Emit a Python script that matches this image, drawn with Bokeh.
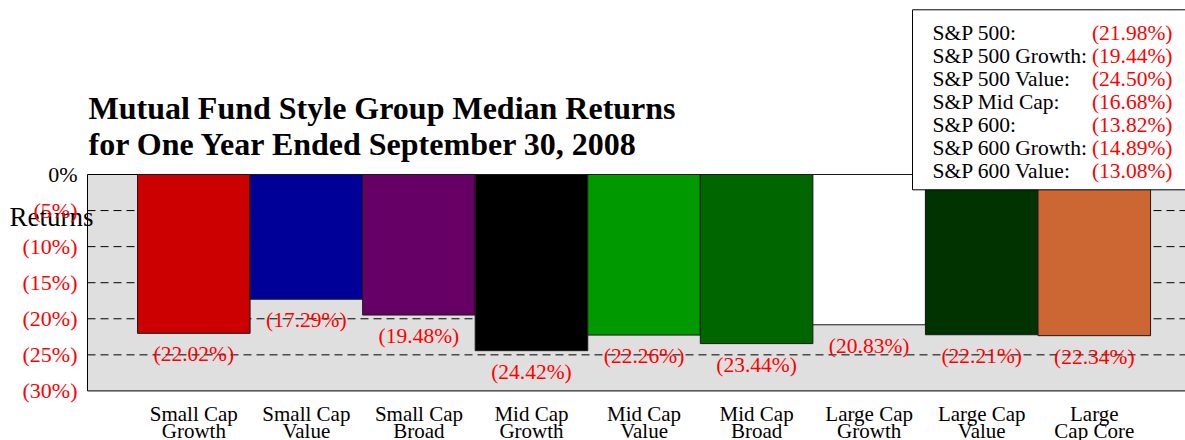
from bokeh.plotting import figure
from bokeh.models import Range1d, FixedTicker, LinearAxis
from bokeh.core.properties import value
from bokeh.embed import file_html
from bokeh.resources import INLINE

# ---- data ----
categories = ["Small Cap\nGrowth", "Small Cap\nValue", "Small Cap\nBroad",
              "Mid Cap\nGrowth", "Mid Cap\nValue", "Mid Cap\nBroad",
              "Large Cap\nGrowth", "Large Cap\nValue", "Large\nCap Core"]
returns = [-22.02, -17.29, -19.48, -24.42, -22.26, -23.44, -20.83, -22.21, -22.34]
bar_colors = ["#CC0000", "#000099", "#660066", "#000000", "#009900",
              "#006600", "#FFFFFF", "#003300", "#CC6633"]
index_names = ["S&P 500:", "S&P 500 Growth:", "S&P 500 Value:", "S&P Mid Cap:",
               "S&P 600:", "S&P 600 Growth:", "S&P 600 Value:"]
index_returns = [-21.98, -19.44, -24.50, -16.68, -13.82, -14.89, -13.08]
y_ticks = [0, -5, -10, -15, -20, -25, -30]
grid_values = [-5, -10, -15, -20, -25]
title_lines = ["Mutual Fund Style Group Median Returns",
               "for One Year Ended September 30, 2008"]
y_title = "Returns"

# ---- layout constants (pixels) ----
W, H = 1185, 440
PX_X = 112.56
PX_Y = 7.214
X0 = 193.3   # px of first category centre
Y0 = 174.0   # px of 0%

def dx(px):
    return (px - X0) / PX_X

def dy(py):
    return (Y0 - py) / PX_Y

FONT = value("Liberation Serif")
x_end = dx(W)
plot_left = dx(87)

def pct_tick(v):
    return "0%" if v == 0 else f"({abs(v):g}%)"

def pct_val(v):
    return f"({abs(v):.2f}%)"

p = figure(width=W, height=H,
           x_range=Range1d(dx(0), x_end),
           y_range=Range1d(dy(H), dy(0)),
           output_backend="svg", toolbar_location=None,
           x_axis_location=None, y_axis_location=None,
           min_border=0, min_border_left=0, min_border_right=0,
           min_border_top=0, min_border_bottom=0,
           outline_line_color=None,
           background_fill_color="white", border_fill_color="white")
p.xgrid.visible = False
p.ygrid.visible = False

def make_axis(ticks, color):
    ax = LinearAxis(fixed_location=plot_left)
    ax.ticker = FixedTicker(ticks=ticks)
    ax.major_label_overrides = {t: pct_tick(t) for t in ticks}
    ax.major_label_text_color = color
    ax.major_label_text_font = "Liberation Serif"
    ax.major_label_text_font_size = "22px"
    ax.major_tick_in = 0
    ax.major_tick_out = 0
    ax.minor_tick_in = 0
    ax.minor_tick_out = 0
    ax.axis_line_color = None
    ax.major_label_standoff = 10
    return ax

# plot area
p.quad(left=plot_left, right=x_end + 1, top=y_ticks[0], bottom=y_ticks[-1],
       fill_color="#DFDFDF", line_color="black", line_width=1)

n = len(grid_values)
p.segment(x0=[plot_left] * n, x1=[x_end + 1] * n, y0=grid_values, y1=grid_values,
          line_color="black", line_width=1, line_dash="8 5")

xs = list(range(len(categories)))
p.vbar(x=xs, top=0, bottom=returns, width=1.0, fill_color=bar_colors,
       line_color="#1a1a1a", line_width=1)

p.text(x=xs, y=returns, text=[pct_val(v) for v in returns],
       y_offset=21, text_align="center", text_baseline="middle",
       text_color="#FF0000", text_font=FONT, text_font_size="21.5px")

line1 = [c.split("\n")[0] for c in categories]
line2 = [c.split("\n")[1] for c in categories]
p.text(x=xs, y=[y_ticks[-1]] * len(xs), text=line1, y_offset=23,
       text_align="center", text_baseline="alphabetic",
       text_color="black", text_font=FONT, text_font_size="21px")
p.text(x=xs, y=[y_ticks[-1]] * len(xs), text=line2, y_offset=40,
       text_align="center", text_baseline="alphabetic",
       text_color="black", text_font=FONT, text_font_size="21px")

# title
p.text(x=[plot_left, plot_left], y=[0, 0], text=title_lines,
       x_offset=1, y_offset=[-67, -31],
       text_align="left", text_baseline="alphabetic", text_color="black",
       text_font=FONT, text_font_size="32px", text_font_style="bold")

# index box
p.quad(left=dx(912), right=x_end + 1, top=dy(9.3), bottom=dy(189.3),
       fill_color="white", line_color="black", line_width=1)
rows = list(range(len(index_names)))
row_y = [dy(32.3 + 23.06 * i) for i in rows]
p.text(x=[dx(932)] * len(rows), y=row_y, text=index_names,
       text_align="left", text_baseline="alphabetic", text_color="black",
       text_font=FONT, text_font_size="21.5px")
p.text(x=[dx(1172)] * len(rows), y=row_y, text=[pct_val(v) for v in index_returns],
       text_align="right", text_baseline="alphabetic", text_color="#FF0000",
       text_font=FONT, text_font_size="21.5px")

# y axes: red negative returns, black zero
p.add_layout(make_axis(y_ticks[1:], "#FF0000"), "left")
p.add_layout(make_axis(y_ticks[:1], "black"), "left")

# axis title
p.text(x=[plot_left], y=[dy(216)], text=[y_title], x_offset=6,
       text_align="right", text_baseline="alphabetic", text_color="black",
       text_font=FONT, text_font_size="27px")

open("out.html", "w").write(file_html(p, INLINE))
